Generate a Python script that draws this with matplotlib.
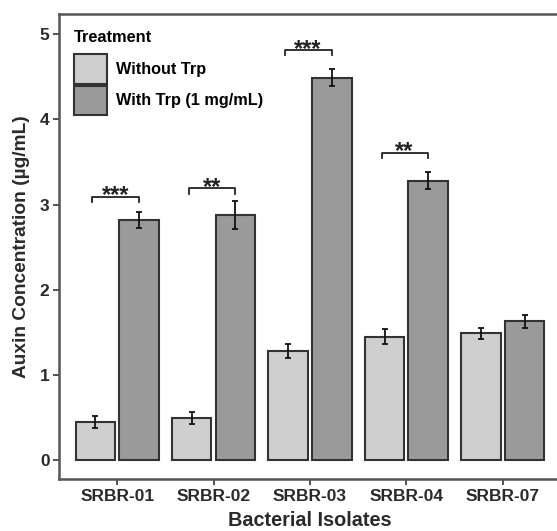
import numpy as np
import matplotlib
matplotlib.use("Agg")
import matplotlib.pyplot as plt

plt.rcParams["font.family"] = ["Liberation Sans", "DejaVu Sans"]
plt.rcParams["font.weight"] = "bold"

isolates = ["SRBR-01", "SRBR-02", "SRBR-03", "SRBR-04", "SRBR-07"]
without_trp = [0.45, 0.50, 1.28, 1.45, 1.49]
without_err = [0.07, 0.07, 0.08, 0.09, 0.06]
with_trp = [2.82, 2.88, 4.49, 3.28, 1.63]
with_err = [0.09, 0.16, 0.10, 0.10, 0.08]
# significance brackets (isolate index, bracket height, label)
sig_idx = [0, 1, 2, 3]
sig_y = [3.09, 3.19, 4.81, 3.61]
sig_lab = ["***", "**", "***", "**"]

light = "#cfcfcf"
dark = "#9a9a9a"
edge = "#333333"

fig = plt.figure(figsize=(5.57, 5.31), dpi=100)
ax = fig.add_axes([0.1065, 0.098, 0.9, 0.8755])

x = np.arange(len(isolates))
off = 0.2265
w = 0.41
ax.bar(x - off, without_trp, w, color=light, edgecolor=edge, linewidth=1.5,
       label="Without Trp", zorder=2)
ax.bar(x + off, with_trp, w, color=dark, edgecolor=edge, linewidth=1.5,
       label="With Trp (1 mg/mL)", zorder=2)
ax.errorbar(x - off, without_trp, yerr=without_err, fmt="none", ecolor="#111111",
            elinewidth=1.3, capsize=2.5, capthick=1.3, zorder=3)
ax.errorbar(x + off, with_trp, yerr=with_err, fmt="none", ecolor="#111111",
            elinewidth=1.3, capsize=2.5, capthick=1.3, zorder=3)

for i, yb, lab in zip(sig_idx, sig_y, sig_lab):
    x0, x1 = i - off - 0.03, i + off
    ax.plot([x0, x0, x1, x1], [yb - 0.06, yb, yb, yb - 0.06], color="#222222",
            lw=1.3, zorder=3)
    ax.text(i - 0.02, yb - 0.12, lab, ha="center", va="bottom", fontsize=17,
            fontweight="bold", color="#222222", zorder=4)

ax.set_xlim(-0.6, 4.6)
ax.set_ylim(-0.217, 5.235)
ax.set_xticks(x)
ax.set_xticklabels(isolates)
ax.set_yticks([0, 1, 2, 3, 4, 5])
ax.tick_params(axis="both", labelsize=12.5, colors="#333333", length=4, width=1.2,
               labelcolor="#2a2a2a", pad=3)
for s in ax.spines.values():
    s.set_color("#555555")
    s.set_linewidth(1.8)

ax.set_xlabel("Bacterial Isolates", fontsize=14.3, fontweight="bold", color="#2a2a2a",
              labelpad=5.5)
ax.set_ylabel("Auxin Concentration (µg/mL)", fontsize=13.8, fontweight="bold",
              color="#2a2a2a", labelpad=7)

leg = ax.legend(title="Treatment", loc="upper left", bbox_to_anchor=(0.0, 0.998),
                frameon=False, fontsize=11.7, title_fontsize=11.8, handlelength=2.05,
                handleheight=2.45, labelspacing=0.08, handletextpad=0.55,
                borderaxespad=0.5, alignment="left")
leg.get_title().set_fontweight("bold")
leg._legend_box.sep = 7

fig.savefig("out.png", dpi=100)
